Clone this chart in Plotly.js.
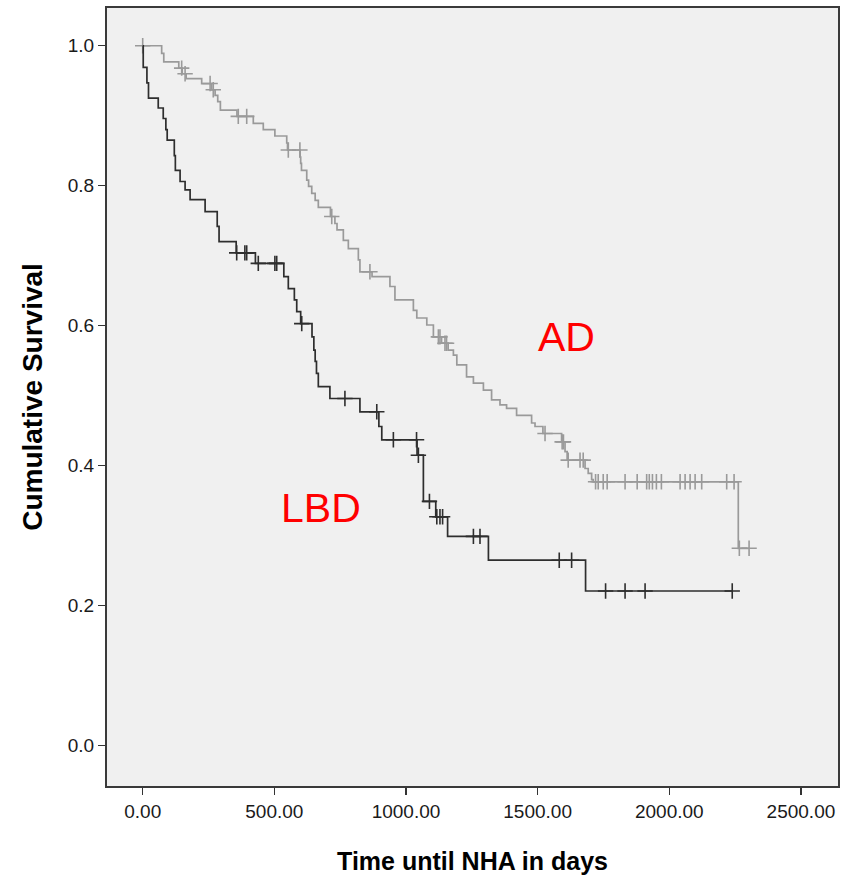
<!DOCTYPE html>
<html>
<head>
<meta charset="utf-8">
<script src="https://cdn.plot.ly/plotly-3.0.1.min.js"></script>
<style>html,body{margin:0;padding:0;background:#fff;}#chart{width:841px;height:880px;}</style>
</head>
<body>
<div id="chart"></div>
<script>
// AD group: event times (days) and survival after each event
const adEventTimes = [72, 80, 137, 150, 165, 224, 262, 275, 285, 295, 358, 420, 458, 502, 547, 550, 598, 600, 603, 623, 630, 642, 655, 667, 713, 730, 738, 762, 781, 819, 825, 871, 939, 958, 1028, 1041, 1079, 1104, 1135, 1160, 1180, 1193, 1230, 1256, 1294, 1325, 1357, 1382, 1420, 1477, 1490, 1520, 1591, 1604, 1612, 1680, 1692, 1705, 1711, 2262];
const adSurvival   = [0.989, 0.977, 0.968, 0.960, 0.953, 0.946, 0.937, 0.929, 0.920, 0.908, 0.899, 0.889, 0.880, 0.871, 0.861, 0.851, 0.841, 0.832, 0.822, 0.808, 0.799, 0.789, 0.779, 0.769, 0.756, 0.746, 0.737, 0.722, 0.710, 0.694, 0.677, 0.670, 0.656, 0.637, 0.622, 0.611, 0.601, 0.584, 0.575, 0.565, 0.558, 0.544, 0.527, 0.518, 0.508, 0.494, 0.487, 0.482, 0.472, 0.461, 0.456, 0.446, 0.434, 0.420, 0.408, 0.396, 0.389, 0.380, 0.377, 0.282];
const adCensored   = [0, 148, 161, 256, 268, 363, 395, 553, 597, 718, 863, 1123, 1129, 1148, 1154, 1528, 1593, 1598, 1616, 1661, 1673, 1720, 1730, 1749, 1764, 1832, 1878, 1914, 1924, 1936, 1951, 1970, 2041, 2060, 2079, 2098, 2123, 2218, 2246, 2266, 2303];

// LBD group
const lbdEventTimes = [2, 16, 22, 59, 78, 88, 93, 120, 124, 142, 161, 180, 237, 283, 290, 355, 428, 536, 553, 576, 585, 600, 643, 650, 655, 660, 667, 711, 825, 897, 908, 1042, 1066, 1113, 1158, 1313, 1682];
const lbdSurvival   = [0.969, 0.947, 0.925, 0.911, 0.896, 0.880, 0.865, 0.843, 0.822, 0.806, 0.794, 0.780, 0.763, 0.742, 0.720, 0.704, 0.689, 0.670, 0.653, 0.637, 0.620, 0.603, 0.584, 0.565, 0.549, 0.532, 0.513, 0.496, 0.477, 0.456, 0.437, 0.415, 0.349, 0.327, 0.299, 0.265, 0.221];
const lbdCensored   = [357, 388, 395, 439, 502, 509, 604, 768, 889, 952, 1040, 1047, 1089, 1117, 1129, 1139, 1256, 1281, 1582, 1629, 1758, 1832, 1908, 2239];

const xTicks = [0, 500, 1000, 1500, 2000, 2500];
const yTicks = [0, 0.2, 0.4, 0.6, 0.8, 1.0];

function stepXY(times, surv, censored) {
  const endT = Math.max(times[times.length - 1], censored[censored.length - 1]);
  return {x: [0].concat(times, [endT]), y: [1].concat(surv, [surv[surv.length - 1]])};
}
function survAt(times, surv, t) {
  let s = 1;
  for (let i = 0; i < times.length; i++) { if (times[i] <= t) s = surv[i]; }
  return s;
}

const adColor = '#9a9a9a';
const lbdColor = '#2e2e2e';
const ad = stepXY(adEventTimes, adSurvival, adCensored);
const lbd = stepXY(lbdEventTimes, lbdSurvival, lbdCensored);

const traces = [
  {x: ad.x, y: ad.y, mode: 'lines', line: {shape: 'hv', color: adColor, width: 1.7}, name: 'AD', hoverinfo: 'skip'},
  {x: adCensored, y: adCensored.map(t => survAt(adEventTimes, adSurvival, t)), mode: 'markers',
   marker: {symbol: 'cross-thin-open', size: 11, color: adColor, line: {color: adColor, width: 1.6}}, name: 'AD-censored'},
  {x: lbd.x, y: lbd.y, mode: 'lines', line: {shape: 'hv', color: lbdColor, width: 1.7}, name: 'LBD', hoverinfo: 'skip'},
  {x: lbdCensored, y: lbdCensored.map(t => survAt(lbdEventTimes, lbdSurvival, t)), mode: 'markers',
   marker: {symbol: 'cross-thin-open', size: 11, color: lbdColor, line: {color: lbdColor, width: 1.6}}, name: 'LBD-censored'}
];

const layout = {
  width: 841, height: 880,
  margin: {l: 107, r: 3, t: 8, b: 94},
  paper_bgcolor: '#ffffff',
  plot_bgcolor: '#f0f0f0',
  showlegend: false,
  font: {family: '"Liberation Sans", Arial, sans-serif', color: '#1a1a1a'},
  xaxis: {
    range: [-135.6, 2640.7], tickvals: xTicks, tickformat: '.2f',
    ticks: 'outside', ticklen: 7, tickwidth: 1.5, tickcolor: '#333',
    showgrid: false, zeroline: false, showline: true, mirror: true,
    linecolor: '#3a3a3a', linewidth: 2,
    tickfont: {size: 19, color: '#1a1a1a'},
    title: {text: 'Time until NHA in days', font: {size: 25, weight: 'bold', color: '#000'}, standoff: 32}
  },
  yaxis: {
    range: [-0.0576, 1.0539], tickvals: yTicks, tickformat: '.1f',
    ticks: 'outside', ticklen: 7, tickwidth: 1.5, tickcolor: '#333',
    showgrid: false, zeroline: false, showline: true, mirror: true,
    linecolor: '#3a3a3a', linewidth: 2,
    tickfont: {size: 19, color: '#1a1a1a'},
    title: {text: 'Cumulative Survival', font: {size: 28, weight: 'bold', color: '#000'}, standoff: 17}
  },
  annotations: [
    {x: 1611, y: 0.584, xref: 'x', yref: 'y', text: 'AD', showarrow: false, font: {size: 41, color: '#ff0000'}},
    {x: 677, y: 0.34, xref: 'x', yref: 'y', text: 'LBD', showarrow: false, font: {size: 41, color: '#ff0000'}}
  ]
};

Plotly.newPlot('chart', traces, layout, {displayModeBar: false, staticPlot: true});
</script>
</body>
</html>
